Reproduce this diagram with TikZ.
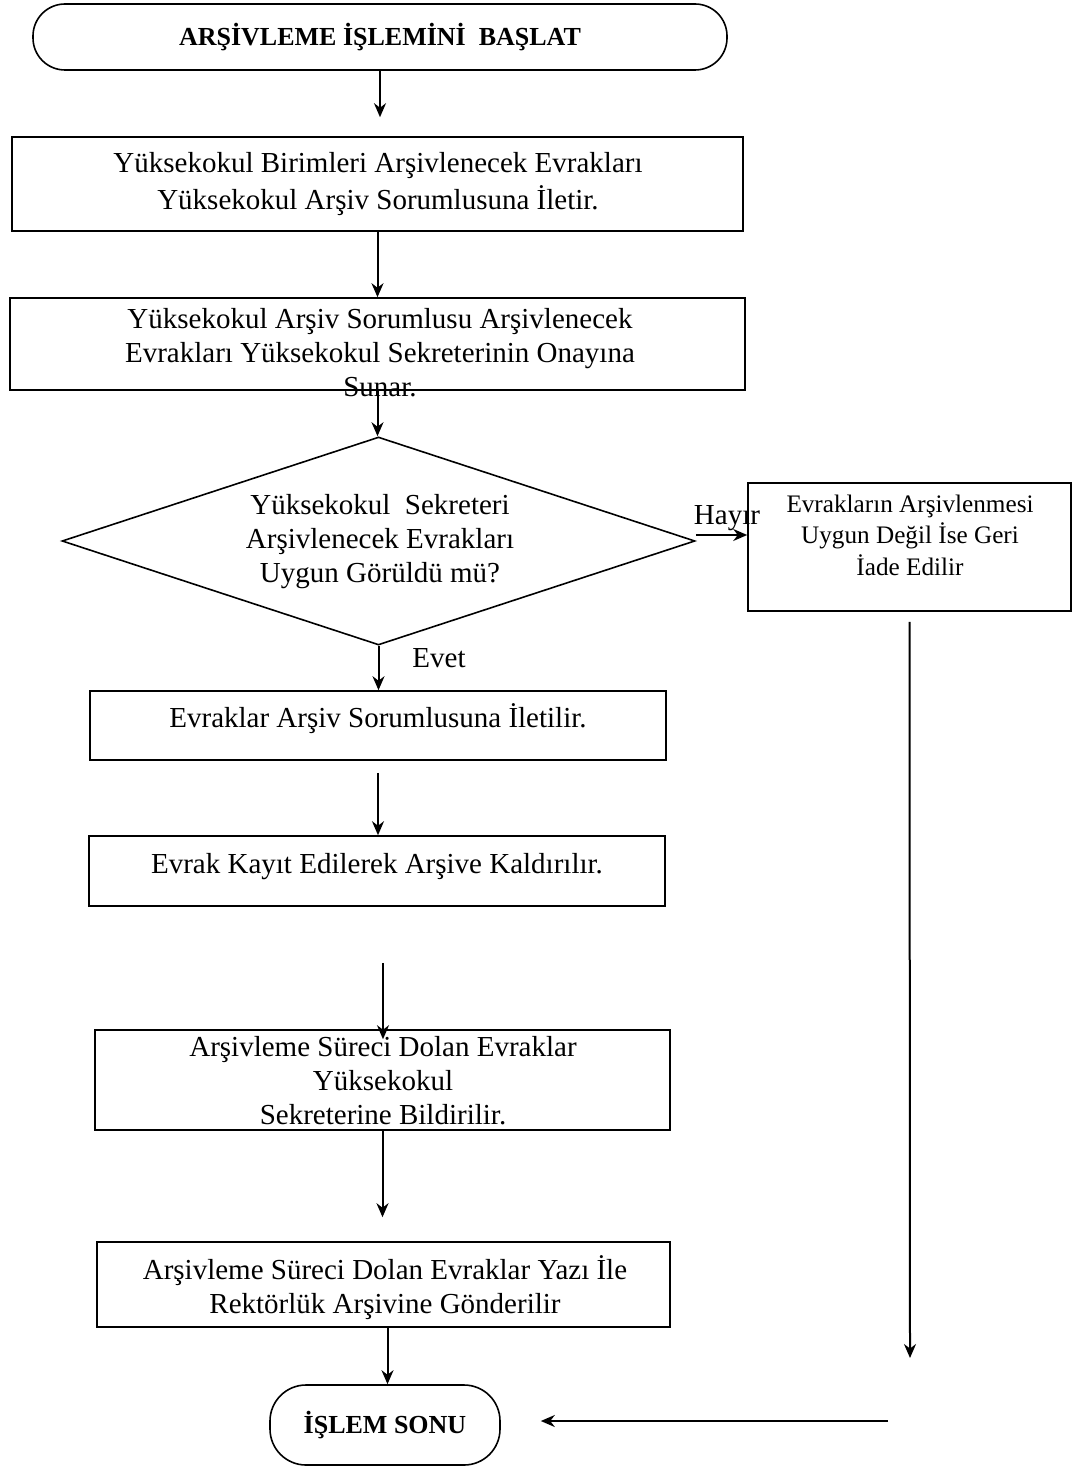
\documentclass[tikz,border=0pt]{standalone}
\usepackage{fontspec}
\setmainfont{Liberation Serif}
\usepackage{tikz}
\usetikzlibrary{arrows.meta,shapes.geometric}

\begin{document}
\begin{tikzpicture}[x=0.5pt, y=-0.5pt,
    box/.style={draw, line width=0.8pt, inner sep=0pt},
    txt/.style={align=center, inner sep=0pt, font=\fontsize{14.5}{17}\selectfont},
    small/.style={align=center, inner sep=0pt, font=\fontsize{12.6}{15.8}\selectfont},
    term/.style={draw, line width=0.8pt, inner sep=0pt, font=\bfseries\fontsize{13}{15}\selectfont},
    arr/.style={-{Stealth[length=7pt,width=6pt]}, line width=1pt}]
  \useasboundingbox (0,0) rectangle (1089,1470);
  % Start terminal
  \node[term, rounded corners=16pt, minimum width=347pt, minimum height=33pt] (start) at (380,37)
    {ARŞİVLEME İŞLEMİNİ~ BAŞLAT};
  % Process boxes
  \node[box, minimum width=365.5pt, minimum height=47pt] (b1) at (377.5,184) {};
  \node[txt, font=\fontsize{14.5}{18.5}\selectfont] (t1) at (378,184)
    {Yüksekokul Birimleri Arşivlenecek Evrakları\\ Yüksekokul Arşiv Sorumlusuna İletir.};
  \node[box, minimum width=367.5pt, minimum height=46pt] (b2) at (377.5,344) {};
  \node[txt] (t2) at (380,353)
    {Yüksekokul Arşiv Sorumlusu Arşivlenecek\\ Evrakları Yüksekokul Sekreterinin Onayına\\ Sunar.};
  % Decision
  \node[draw, diamond, line width=0.8pt, aspect=3, inner sep=0pt, minimum width=316.5pt, minimum height=104pt] (dia) at (378.5,541) {};
  \node[txt] (tq) at (380,542)
    {Yüksekokul~ Sekreteri\\ Arşivlenecek Evrakları\\ Uygun Görüldü mü?};
  \node[box, minimum width=161.5pt, minimum height=64pt] (rb) at (909.5,547) {};
  \node[small] (tr) at (910,535)
    {Evrakların Arşivlenmesi\\ Uygun Değil İse Geri\\ İade Edilir};
  \node[txt] (no) at (727,518) {Hayır};
  \node[txt] (yes) at (439,658) {Evet};
  % Remaining steps
  \node[box, minimum width=288pt, minimum height=34.5pt] (b3) at (378,725.5) {};
  \node[txt] (t3) at (378,719) {Evraklar Arşiv Sorumlusuna İletilir.};
  \node[box, minimum width=288pt, minimum height=35pt] (b4) at (377,871) {};
  \node[txt] (t4) at (377,867) {Evrak Kayıt Edilerek Arşive Kaldırılır.};
  \node[box, minimum width=287.5pt, minimum height=50pt] (b5) at (382.5,1080) {};
  \node[txt] (t5) at (383,1081)
    {Arşivleme Süreci Dolan Evraklar\\ Yüksekokul\\ Sekreterine Bildirilir.};
  \node[box, minimum width=286.5pt, minimum height=42.5pt] (b6) at (383.5,1284.5) {};
  \node[txt] (t6) at (385,1288)
    {Arşivleme Süreci Dolan Evraklar Yazı İle\\ Rektörlük Arşivine Gönderilir};
  % End terminal
  \node[term, rounded corners=18pt, minimum width=115pt, minimum height=40pt] (end) at (385,1425) {İŞLEM SONU};
  % Free ends of the return path
  \coordinate (rdown) at (910,1358);
  \coordinate (rback) at (888,1421);
  % Connectors
  \draw[arr, shorten >=9.5pt] (start.south) -- (start.south |- b1.north);
  \draw[arr] (b1.south) -- (b1.south |- b2.north);
  \draw[arr] (b2.south) -- (b2.south |- dia.north);
  \draw[arr] (dia.south) -- (dia.south |- b3.north);
  \draw[arr] ([yshift=3pt]dia.east) -- ([yshift=3pt]dia.east -| rb.west);
  \draw[arr, shorten <=6pt] (b3.south) -- (b3.south |- b4.north);
  \draw[arr, shorten <=28pt, shorten >=-5pt] ([xshift=3pt]b4.south) -- ([xshift=3pt]b4.south |- b5.north);
  \draw[arr, shorten >=12pt] (b5.south) -- (b5.south |- b6.north);
  \draw[arr] ([xshift=2pt]b6.south) -- ([xshift=2pt]b6.south |- end.north);
  \draw[arr, shorten <=5pt] (rb.south) -- (rdown);
  \draw[arr, shorten >=20pt] (rback) -- (rback -| end.east);
\end{tikzpicture}
\end{document}
